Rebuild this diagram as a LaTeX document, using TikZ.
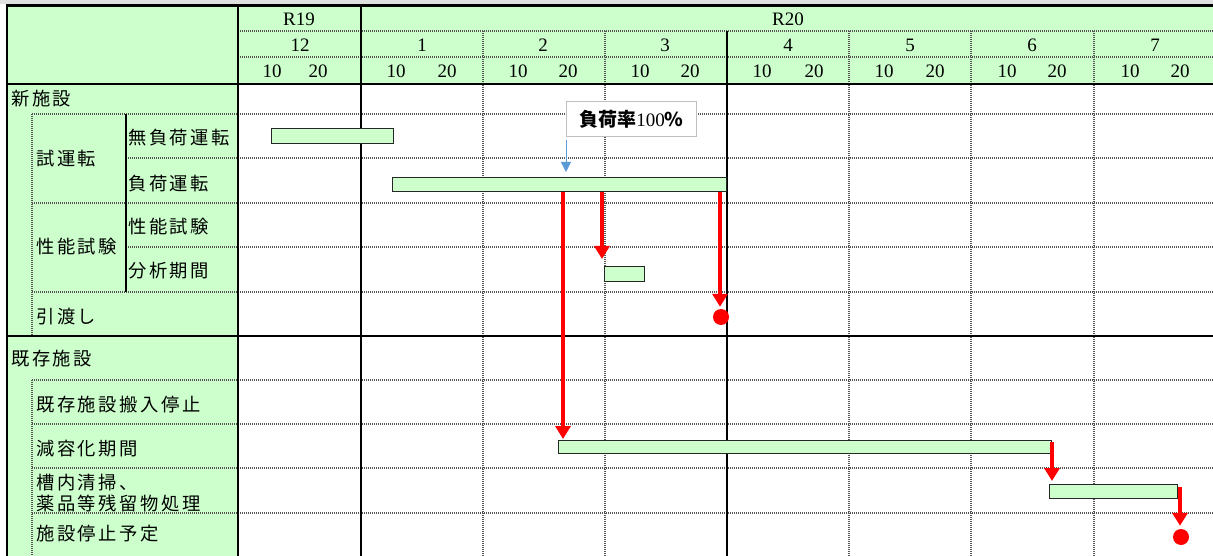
\documentclass[tikz,border=0pt]{standalone}
\usepackage{fontspec}
\usetikzlibrary{arrows.meta}
\setmainfont{Liberation Serif}
\newfontfamily\jpfont{Noto Sans CJK JP}[LetterSpace=14]
\newfontfamily\jpplain{Noto Sans CJK JP}
\definecolor{cellgreen}{HTML}{CCFFCC}
\definecolor{callblue}{HTML}{5B9BD5}
\definecolor{gridgray}{HTML}{555555}
\begin{document}
\begin{tikzpicture}[x=1pt,y=-1pt,
 heavy/.style={line width=2.4pt, black},
 dotl/.style={draw=gridgray, line width=1.6pt, dash pattern=on 1pt off 1pt},
 bar/.style={draw=black!85, line width=1pt, fill=cellgreen, inner sep=0pt, anchor=north west},
 redarr/.style={draw=red, line width=4.5pt, -{Triangle[width=15pt,length=13pt]}},
 reddot/.style={circle, fill=red, minimum size=16pt, inner sep=0pt},
 bluearr/.style={draw=callblue, line width=1pt, -{Triangle[width=10pt,length=10pt]}},
 jl/.style={anchor=west, inner sep=0pt, font=\fontsize{18.3}{20}\jpfont},
 nl/.style={inner sep=0pt, font=\fontsize{19}{21}\selectfont}
]
\useasboundingbox (0,0) rectangle (1213,556);
% backgrounds
\fill[black!12] (0,0) rectangle (1213,4);
\fill[cellgreen] (7,5) rectangle (1213,84);
\fill[cellgreen] (7,84) rectangle (238,556);
% header dotted lines
\foreach \yy in {31,57} \draw[dotl] (238,\yy) -- (1213,\yy);
\foreach \xx in {483,605,849,971,1094} \draw[dotl] (\xx,31) -- (\xx,556);
% grid dotted rows
\foreach \yy in {114,203,292,380,424,468,513} \draw[dotl] (32,\yy) -- (1213,\yy);
\foreach \yy in {158,247} \draw[dotl] (126,\yy) -- (1213,\yy);
\draw[dotl] (32,114) -- (32,336);
\draw[dotl] (32,380) -- (32,556);
% heavy lines
\draw[heavy] (5.8,5.5) -- (1213,5.5);
\draw[heavy] (7,5) -- (7,556);
\draw[heavy] (238,5) -- (238,556);
\draw[heavy] (361,5) -- (361,556);
\draw[heavy] (727,31) -- (727,556);
\draw[heavy] (7,84) -- (1213,84);
\draw[heavy] (7,336) -- (1213,336);
\draw[heavy] (126,114) -- (126,292);
% header labels
\node[nl] (r19) at (299,19) {R19};
\node[nl] (r20) at (788,19) {R20};
\foreach \mx/\ml in {300/12,422/1,543/2,665/3,788/4,910/5,1032/6,1155/7}
  \node[nl] (m\ml) at (\mx,45) {\ml};
\foreach \da/\db [count=\i] in {272/318,396/447,518/568,640/690,762/814,884/935,1007/1057,1130/1180}{
  \node[nl] (d\i a) at (\da,71) {10};
  \node[nl] (d\i b) at (\db,71) {20};
}
% row labels
\node[jl] (l1) at (11,99) {新施設};
\node[jl] (l2) at (36,159) {試運転};
\node[jl] (l3) at (128,138) {無負荷運転};
\node[jl] (l4) at (128,184) {負荷運転};
\node[jl] (l5) at (36,247) {性能試験};
\node[jl] (l6) at (128,227) {性能試験};
\node[jl] (l7) at (128,271) {分析期間};
\node[jl] (l8) at (36,317) {引渡し};
\node[jl] (l9) at (11,359) {既存施設};
\node[jl] (l10) at (36,405) {既存施設搬入停止};
\node[jl] (l11) at (36,449) {減容化期間};
\node[jl] (l12) at (36,483) {槽内清掃、};
\node[jl] (l13) at (36,503) {薬品等残留物処理};
\node[jl] (l14) at (36,534) {施設停止予定};
% bars
\node[bar, minimum width=122pt, minimum height=15pt] (b1) at (271,128) {};
\node[bar, minimum width=334pt, minimum height=14pt] (b2) at (392,177) {};
\node[bar, minimum width=40pt, minimum height=15pt] (b3) at (604,266) {};
\node[bar, minimum width=493pt, minimum height=13pt] (b4) at (558,440) {};
\node[bar, minimum width=128pt, minimum height=14pt] (b5) at (1049,484) {};
% end dots
\node[reddot] (e1) at (721,317) {};
\node[reddot] (e2) at (1181,537) {};
% red arrows
\coordinate (x1) at (563,0);
\coordinate (x2) at (602,0);
\coordinate (x3) at (720,0);
\coordinate (x4) at (1052,0);
\coordinate (x5) at (1180,0);
\draw[redarr, shorten >=1pt] (b2.south -| x1) -- (b4.north -| x1);
\draw[redarr, shorten >=7pt] (b2.south -| x2) -- (b3.north -| x2);
\draw[redarr, shorten >=2pt] (b2.south -| x3) -- (e1.north -| x3);
\draw[redarr, shorten <=2pt, shorten >=3pt] (b4.north -| x4) -- (b5.north -| x4);
\draw[redarr, shorten <=3pt, shorten >=3pt] (b5.north -| x5) -- (e2.north -| x5);
% callout
\node[draw=black!25, line width=0.8pt, fill=white, minimum width=130pt, minimum height=35pt,
      anchor=north west, inner sep=0pt] (call) at (566,101)
  {{\fontsize{19}{21}\jpplain\bfseries 負荷率}{\fontsize{19}{21}\selectfont 100}{\fontsize{19}{21}\jpplain\bfseries \%}};
\draw[bluearr, shorten <=3pt, shorten >=5pt] (call.south west) -- (b2.north -| call.south west);
\end{tikzpicture}
\end{document}
